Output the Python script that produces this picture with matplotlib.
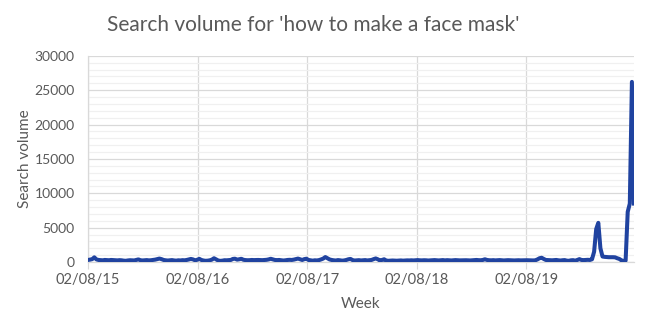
import matplotlib
matplotlib.use("Agg")
import matplotlib.pyplot as plt
import matplotlib.dates as mdates
from matplotlib.ticker import MultipleLocator
import pandas as pd

title = "Search volume for 'how to make a face mask'"
start_week = "2015-08-02"
tick_dates = ["2015-08-02", "2016-08-02", "2017-08-02", "2018-08-02", "2019-08-02"]

# weekly search volume
volume = [
    300, 350, 420, 680, 380, 300, 280, 250, 300, 280, 260, 300, 280, 250, 240, 270, 250, 200, 180, 230,
    260, 240, 230, 300, 380, 260, 230, 250, 280, 240, 260, 300, 350, 420, 500, 420, 300, 250, 220, 250,
    280, 230, 200, 250, 230, 270, 250, 300, 380, 450, 380, 250, 330, 460, 300, 220, 180, 200, 250, 350,
    550, 380, 220, 170, 200, 260, 250, 280, 300, 450, 480, 350, 400, 470, 330, 280, 260, 270, 300, 280,
    290, 300, 280, 270, 300, 320, 380, 470, 380, 300, 280, 300, 260, 220, 250, 300, 320, 300, 350, 420,
    500, 400, 300, 420, 480, 300, 250, 200, 250, 230, 280, 380, 500, 720, 550, 380, 300, 250, 220, 280,
    250, 200, 230, 300, 400, 450, 280, 220, 240, 270, 230, 250, 280, 230, 260, 300, 420, 520, 400, 220,
    300, 400, 220, 180, 200, 220, 200, 190, 210, 230, 200, 220, 240, 230, 250, 230, 260, 280, 250, 240,
    260, 250, 220, 240, 250, 280, 250, 230, 260, 280, 240, 270, 250, 230, 260, 280, 260, 240, 250, 270,
    260, 250, 230, 250, 280, 300, 270, 260, 300, 400, 300, 260, 250, 270, 240, 260, 280, 250, 230, 250,
    270, 260, 250, 230, 250, 260, 240, 250, 270, 260, 250, 240, 230, 250, 380, 550, 620, 450, 300, 280,
    260, 250, 280, 300, 250, 220, 260, 280, 200, 180, 250, 270, 200, 300, 420, 300, 280, 300, 320,
    300, 400, 1500, 4800, 5700, 2000, 800, 750, 720, 700, 700, 700, 680, 550, 450, 250, 150, 200,
    7300, 8500, 26200, 8500,
]

weeks = pd.date_range(start_week, periods=len(volume), freq="7D")
ticks = pd.to_datetime(tick_dates)

txt = "#595959"
plt.rcParams["font.family"] = ["Lato", "DejaVu Sans"]

fig = plt.figure(figsize=(6.5, 3.3), dpi=100)
ax = fig.add_axes([0.1354, 0.206, 0.8400, 0.625])

ax.plot(weeks, volume, color="#2043a0", linewidth=2.9, solid_joinstyle="round", zorder=3)

ax.set_xlim(weeks[0], weeks[-1])
ax.set_ylim(0, 30000)
ax.yaxis.set_major_locator(MultipleLocator(5000))
ax.yaxis.set_minor_locator(MultipleLocator(1000))
ax.set_xticks(ticks)
ax.xaxis.set_major_formatter(mdates.DateFormatter("%d/%m/%y"))

ax.grid(axis="y", which="major", color="#d9d9d9", linewidth=0.9)
ax.grid(axis="y", which="minor", color="#f0f0f0", linewidth=0.9)
ax.grid(axis="x", which="major", color="#d9d9d9", linewidth=0.9)
ax.set_axisbelow(True)

for s in ["top", "right"]:
    ax.spines[s].set_visible(False)
for s in ["left", "bottom"]:
    ax.spines[s].set_color("#d9d9d9")
    ax.spines[s].set_linewidth(0.9)

ax.tick_params(axis="y", which="both", length=0, colors=txt, labelsize=10, pad=9.5)
ax.tick_params(axis="x", length=5, color="#d9d9d9", colors=txt, labelsize=10.5, pad=3)

ax.set_xlabel("Week", color=txt, fontsize=11, labelpad=7)
ax.set_ylabel("Search volume", color=txt, fontsize=11)
ax.yaxis.set_label_coords(-0.102, 0.5)
fig.text(0.482, 0.924, title, ha="center", va="center", color=txt, fontsize=15)

fig.savefig("out.png", dpi=100)
